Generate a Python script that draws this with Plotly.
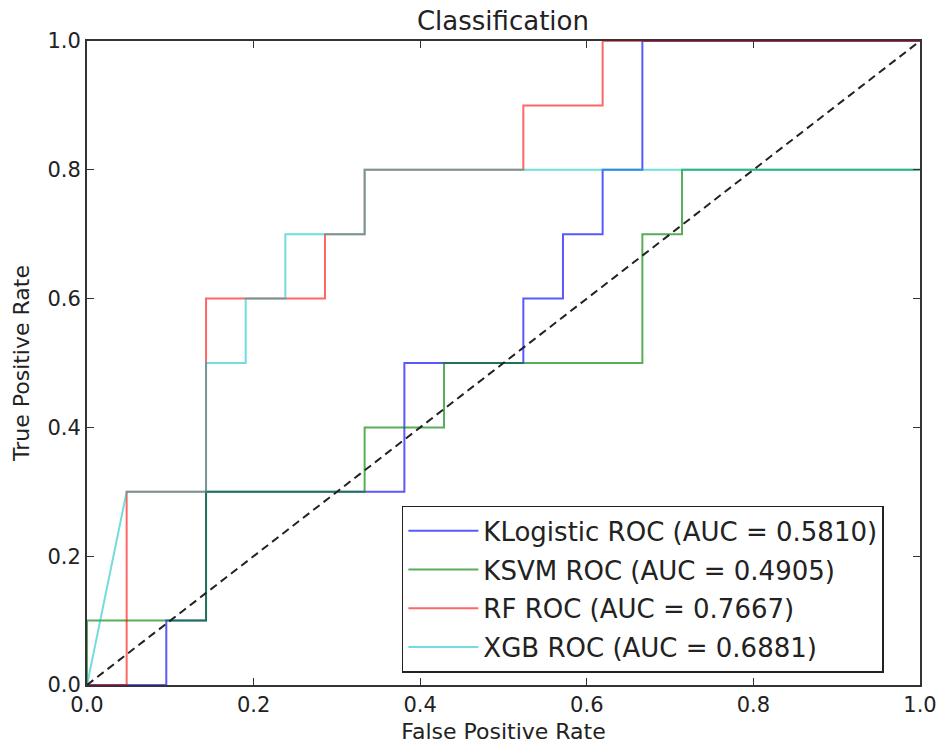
import plotly.graph_objects as go

# ROC curve corner points
klog_fpr = [0.0, 0.0952, 0.0952, 0.1429, 0.1429, 0.3810, 0.3810, 0.5238, 0.5238, 0.5714, 0.5714, 0.6190, 0.6190, 0.6667, 0.6667, 1.0]
klog_tpr = [0.0, 0.0, 0.1, 0.1, 0.3, 0.3, 0.5, 0.5, 0.6, 0.6, 0.7, 0.7, 0.8, 0.8, 1.0, 1.0]

ksvm_fpr = [0.0, 0.0, 0.1429, 0.1429, 0.3333, 0.3333, 0.4286, 0.4286, 0.6667, 0.6667, 0.7143, 0.7143, 1.0]
ksvm_tpr = [0.0, 0.1, 0.1, 0.3, 0.3, 0.4, 0.4, 0.5, 0.5, 0.7, 0.7, 0.8, 0.8]

rf_fpr = [0.0, 0.0476, 0.0476, 0.1429, 0.1429, 0.2857, 0.2857, 0.3333, 0.3333, 0.5238, 0.5238, 0.6190, 0.6190, 1.0]
rf_tpr = [0.0, 0.0, 0.3, 0.3, 0.6, 0.6, 0.7, 0.7, 0.8, 0.8, 0.9, 0.9, 1.0, 1.0]

xgb_fpr = [0.0, 0.0476, 0.1429, 0.1429, 0.1905, 0.1905, 0.2381, 0.2381, 0.3333, 0.3333, 1.0]
xgb_tpr = [0.0, 0.3, 0.3, 0.5, 0.5, 0.6, 0.6, 0.7, 0.7, 0.8, 0.8]

names = ["KLogistic ROC (AUC = 0.5810)", "KSVM ROC (AUC = 0.4905)",
         "RF ROC (AUC = 0.7667)", "XGB ROC (AUC = 0.6881)"]
colors = ["rgba(0,0,255,0.65)", "rgba(0,128,0,0.65)",
          "rgba(255,0,0,0.6)", "rgba(0,191,191,0.55)"]

diag_x = [0.0, 1.0]
diag_y = [0.0, 1.0]

tick_vals = [0.0, 0.2, 0.4, 0.6, 0.8, 1.0]
tick_text = ["0.0", "0.2", "0.4", "0.6", "0.8", "1.0"]

FONT = "DejaVu Sans"
TXT = "#222222"

fig = go.Figure()
series = [(klog_fpr, klog_tpr), (ksvm_fpr, ksvm_tpr), (rf_fpr, rf_tpr), (xgb_fpr, xgb_tpr)]
for i, ((xs, ys), nm, col) in enumerate(zip(series, names, colors)):
    fig.add_trace(go.Scatter(x=xs, y=ys, mode="lines", name=nm,
                             line=dict(color=col, width=2),
                             legendgroup=f"g{i}"))

fig.add_trace(go.Scatter(x=diag_x, y=diag_y, mode="lines", showlegend=False,
                         line=dict(color="#222222", width=2, dash="8px,5px")))

axis_common = dict(
    range=[0, 1], showgrid=False, zeroline=False, automargin=False,
    showline=True, linecolor="#333333", linewidth=2, mirror="allticks",
    ticks="inside", ticklen=7, tickwidth=1, tickcolor="#333333",
    tickvals=tick_vals, ticktext=tick_text,
    tickfont=dict(family=FONT, size=21, color=TXT),
)

fig.update_layout(
    width=938, height=744,
    margin=dict(l=87, r=18, t=41, b=59, autoexpand=False),
    paper_bgcolor="white", plot_bgcolor="white",
    font=dict(family=FONT, color=TXT),
    title=dict(text="Classification", x=0.5362, xanchor="center",
               y=0.9718, yanchor="middle", yref="container", automargin=False,
               font=dict(family=FONT, size=26, color=TXT)),
    xaxis=dict(**axis_common,
               title=dict(text="False Positive Rate", standoff=8,
                          font=dict(family=FONT, size=22, color=TXT))),
    yaxis=dict(**axis_common,
               title=dict(text="True Positive Rate", standoff=12,
                          font=dict(family=FONT, size=22, color=TXT))),
    legend=dict(x=0.378, xanchor="left", y=0.019, yanchor="bottom",
                bgcolor="white", bordercolor="#222222", borderwidth=1.5,
                font=dict(family=FONT, size=26, color=TXT),
                tracegroupgap=2, itemwidth=70),
)

fig.write_html(
    "out.html",
    config={"displayModeBar": False},
    post_script="document.body.style.margin='0';document.body.style.overflow='hidden';",
)
